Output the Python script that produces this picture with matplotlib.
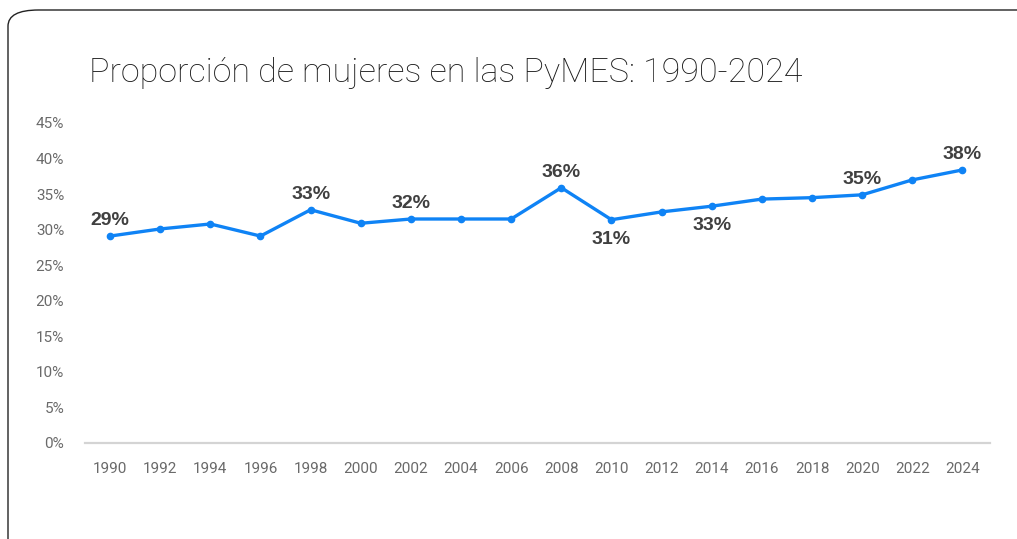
import matplotlib.pyplot as plt
from matplotlib.patches import FancyBboxPatch

years = [1990, 1992, 1994, 1996, 1998, 2000, 2002, 2004, 2006,
         2008, 2010, 2012, 2014, 2016, 2018, 2020, 2022, 2024]
share = [29.1, 30.1, 30.8, 29.1, 32.8, 30.9, 31.5, 31.5, 31.5,
         35.9, 31.4, 32.5, 33.3, 34.3, 34.5, 34.9, 37.0, 38.4]
# which points get a label, and where it goes
label_above = {1990: "29%", 1998: "33%", 2002: "32%", 2008: "36%", 2020: "35%", 2024: "38%"}
label_below = {2010: "31%", 2014: "33%"}
yticks = list(range(0, 46, 5))

fig = plt.figure(figsize=(10.17, 5.39), dpi=100)

# card outline, runs off the right and bottom edges
card = FancyBboxPatch((8 / 1017, -0.2), 1.2, 0.2 + 529 / 539,
                      boxstyle="round,pad=0,rounding_size=0.03",
                      transform=fig.transFigure, fill=False,
                      edgecolor="#222222", linewidth=1.0)
fig.patches.append(card)

fig.text(89 / 1017, 1 - 73 / 539, "Proporción de mujeres en las PyMES: 1990-2024",
         fontsize=24.5, family="Roboto", fontweight="light", color="#1a1a1a", va="center")

ax = fig.add_axes([85 / 1017, 1 - 443 / 539, 905 / 1017, 320 / 539])
ax.plot(years, share, color="#0f83f5", linewidth=2.4, marker="o", markersize=4.5,
        solid_joinstyle="round")

for x, y in zip(years, share):
    if x in label_above:
        ax.annotate(label_above[x], (x, y), xytext=(0, 5), textcoords="offset points",
                    ha="center", va="bottom", fontsize=14, fontweight="bold",
                    color="#404040", family="Liberation Sans")
    elif x in label_below:
        ax.annotate(label_below[x], (x, y), xytext=(0, -8), textcoords="offset points",
                    ha="center", va="top", fontsize=14, fontweight="bold",
                    color="#404040", family="Liberation Sans")

ax.set_xlim(1989.0, 2025.1)
ax.set_ylim(0, 45)
ax.set_xticks(years)
ax.set_xticklabels([str(y) for y in years])
ax.set_yticks(yticks)
ax.set_yticklabels([f"{t}%" for t in yticks])
ax.tick_params(axis="both", length=0, labelsize=11, labelcolor="#6a6a6a")
ax.tick_params(axis="x", pad=14)
ax.tick_params(axis="y", pad=15)
for lbl in ax.get_xticklabels() + ax.get_yticklabels():
    lbl.set_family("Roboto")
for side in ["top", "right", "left"]:
    ax.spines[side].set_visible(False)
ax.spines["bottom"].set_color("#d4d4d4")
ax.spines["bottom"].set_linewidth(1.6)

plt.savefig("out.png", dpi=100)
